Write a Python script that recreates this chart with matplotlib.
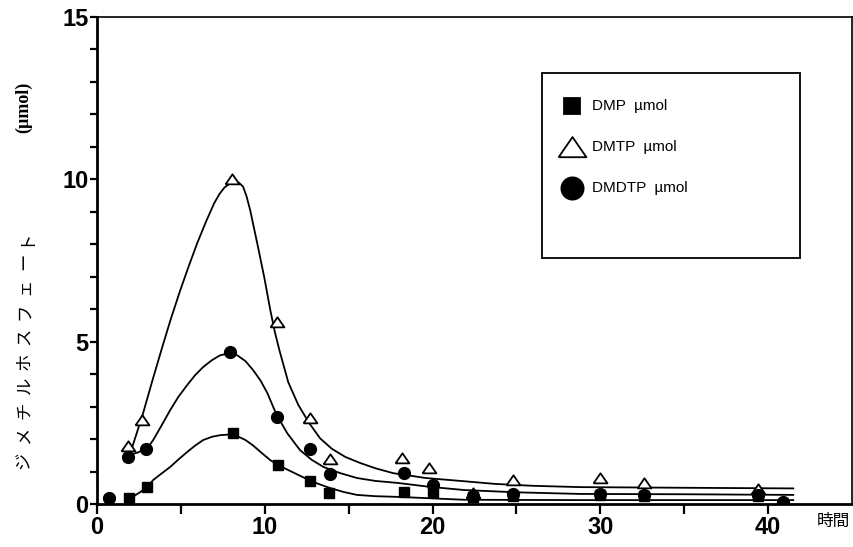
"""
ジメチルホスフェート (DMP / DMTP / DMDTP) の経時変化グラフを再現する。
out.png に保存。
"""

import numpy as np
import matplotlib
matplotlib.use("Agg")
import matplotlib.pyplot as plt
from matplotlib.patches import Rectangle

# --- 測定点 (時間, μmol) ---
dmp_t = [1.9, 3.0, 8.1, 10.8, 12.7, 13.8, 18.3, 20.0, 22.4, 24.8, 30.0, 32.6, 39.4]
dmp_v = [0.18, 0.52, 2.2, 1.2, 0.72, 0.34, 0.36, 0.38, 0.22, 0.25, 0.28, 0.25, 0.25]

dmtp_t = [1.85, 2.7, 8.06, 10.75, 12.7, 13.9, 18.2, 19.8, 22.4, 24.8, 30.0, 32.6, 39.4]
dmtp_v = [1.8, 2.6, 10.0, 5.6, 2.65, 1.4, 1.42, 1.1, 0.35, 0.74, 0.8, 0.65, 0.45]

dmdtp_t = [0.7, 1.85, 2.93, 7.94, 10.7, 12.7, 13.9, 18.3, 20.0, 22.4, 24.8, 30.0, 32.6, 39.4, 40.9]
dmdtp_v = [0.18, 1.45, 1.69, 4.68, 2.68, 1.7, 0.92, 0.95, 0.6, 0.25, 0.3, 0.3, 0.28, 0.28, 0.06]

# --- 近似曲線 (図から読み取った点) ---
dmtp_curve_t = [2.1, 2.75, 3.3, 3.9, 4.4, 4.96, 5.45, 5.97, 6.5, 6.98, 7.3, 7.6, 7.94, 8.2,
                8.45, 8.7, 8.9, 9.13, 9.55, 9.97, 10.33, 10.6, 10.87, 11.4, 12.0, 12.65,
                13.3, 14.0, 14.8, 15.7, 16.6, 17.65, 19.6, 21.9, 23.7, 26.0, 28.8, 35.0, 41.5]
dmtp_curve_v = [1.75, 2.8, 3.8, 4.85, 5.7, 6.58, 7.3, 8.03, 8.7, 9.26, 9.55, 9.75, 9.88, 9.92,
                9.9, 9.78, 9.5, 9.05, 8.03, 6.98, 5.97, 5.3, 4.74, 3.75, 3.05, 2.49,
                2.02, 1.7, 1.45, 1.26, 1.1, 0.95, 0.8, 0.7, 0.62, 0.56, 0.52, 0.5, 0.48]

dmdtp_curve_t = [1.8, 2.4, 3.0, 3.35, 3.85, 4.36, 4.85, 5.37, 5.85, 6.33, 6.85, 7.34, 7.85,
                 8.36, 8.85, 9.31, 9.75, 10.15, 10.7, 11.34, 12.1, 12.8, 13.5, 14.5, 15.5,
                 16.6, 17.9, 19.8, 21.9, 25.0, 28.8, 35.0, 41.5]
dmdtp_curve_v = [1.5, 1.58, 1.72, 1.97, 2.42, 2.89, 3.3, 3.66, 3.97, 4.22, 4.43, 4.58, 4.64,
                 4.58, 4.4, 4.12, 3.8, 3.42, 2.75, 2.18, 1.66, 1.36, 1.14, 0.95, 0.8,
                 0.71, 0.65, 0.53, 0.43, 0.36, 0.31, 0.3, 0.28]

dmp_curve_t = [2.0, 2.5, 3.0, 3.35, 3.85, 4.36, 4.85, 5.37, 5.85, 6.33, 6.85, 7.34, 7.9,
               8.36, 8.85, 9.31, 9.8, 10.33, 10.8, 11.3, 12.1, 12.7, 13.3, 13.9, 14.7,
               15.5, 16.6, 17.9, 21.9, 28.8, 41.5]
dmp_curve_v = [0.18, 0.34, 0.52, 0.74, 0.94, 1.14, 1.37, 1.6, 1.8, 1.97, 2.07, 2.12, 2.14,
               2.09, 1.97, 1.8, 1.58, 1.35, 1.2, 1.07, 0.87, 0.72, 0.6, 0.49, 0.37,
               0.28, 0.24, 0.22, 0.13, 0.12, 0.12]

legend_labels = ["DMP  µmol", "DMTP  µmol", "DMDTP  µmol"]
ylabel_jp = "ジメチルホスフェート"
ylabel_unit = "(µmol)"
xlabel_jp = "時間"

# 横長の三角マーカー
TRI = [(-1.0, -0.7), (1.0, -0.7), (0.0, 0.75), (-1.0, -0.7)]


def main():
    fig = plt.figure(figsize=(8.54, 5.47), dpi=100)
    ax = fig.add_axes([97 / 854, 1 - 504 / 547, 755 / 854, 487 / 547])

    lw = 1.3
    for ct, cv in ((dmtp_curve_t, dmtp_curve_v), (dmdtp_curve_t, dmdtp_curve_v),
                   (dmp_curve_t, dmp_curve_v)):
        ax.plot(ct, cv, color="black", lw=lw, solid_joinstyle="round", zorder=2)

    ax.plot(dmtp_t, dmtp_v, ls="none", marker=TRI, ms=10, mfc="white",
            mec="black", mew=1.3, zorder=3)
    ax.plot(dmdtp_t, dmdtp_v, ls="none", marker="o", ms=8.5, color="black", zorder=4)
    ax.plot(dmp_t, dmp_v, ls="none", marker="s", ms=7, color="black", zorder=4)

    ax.set_xlim(0, 45)
    ax.set_ylim(0, 15)
    ax.set_xticks([0, 10, 20, 30, 40])
    ax.set_xticks([5, 15, 25, 35], minor=True)
    ax.set_yticks([0, 5, 10, 15])
    ax.set_yticks([1, 2, 3, 4, 6, 7, 8, 9, 11, 12, 13, 14], minor=True)

    tick_font = {"family": "Liberation Sans", "weight": "bold", "size": 17}
    ax.set_xticklabels(["0", "10", "20", "30", "40"], fontdict=tick_font)
    ax.set_yticklabels(["0", "5", "10", "15"], fontdict=tick_font)
    ax.tick_params(axis="x", which="both", direction="out", length=7, width=1.6, pad=2)
    ax.tick_params(axis="y", which="both", direction="out", length=5, width=1.6, pad=1)

    for side in ("left", "bottom"):
        ax.spines[side].set_linewidth(2.0)
    for side in ("top", "right"):
        ax.spines[side].set_linewidth(1.2)

    # 凡例 (手描き枠)
    ax.add_patch(Rectangle((0.589, 0.505), 0.342, 0.38, transform=ax.transAxes,
                           fill=False, edgecolor="black", lw=1.3, zorder=5))
    keys = [("s", 12, "black", "black"), (TRI, 20, "white", "black"), ("o", 16, "black", "black")]
    ys = [0.817, 0.733, 0.649]
    for (mk, ms, fc, ec), yy, lab in zip(keys, ys, legend_labels):
        ax.plot([0.629], [yy], transform=ax.transAxes, marker=mk, ms=ms, mfc=fc, mec=ec,
                mew=1.3, ls="none", clip_on=False, zorder=6)
        ax.text(0.656, yy, lab, transform=ax.transAxes, ha="left", va="center",
                fontsize=11, family="Liberation Sans", zorder=6)

    # 軸ラベル
    jp = ["Noto Sans CJK JP", "DejaVu Sans"]
    ys_px = np.linspace(460, 237, len(ylabel_jp))
    for ch, ypx in zip(ylabel_jp, ys_px):
        fig.text(24 / 854, 1 - ypx / 547, ch, rotation=90, ha="center", va="center",
                 fontsize=12.5, family=jp)
    fig.text(24 / 854, 1 - 107 / 547, ylabel_unit, rotation=90, ha="center", va="center",
             fontsize=13, family="Liberation Serif", weight="bold")
    fig.text(833 / 854, 1 - 521 / 547, xlabel_jp, ha="center", va="center",
             fontsize=12, family=jp)

    fig.savefig("out.png", dpi=100)
    plt.close(fig)


if __name__ == "__main__":
    main()
